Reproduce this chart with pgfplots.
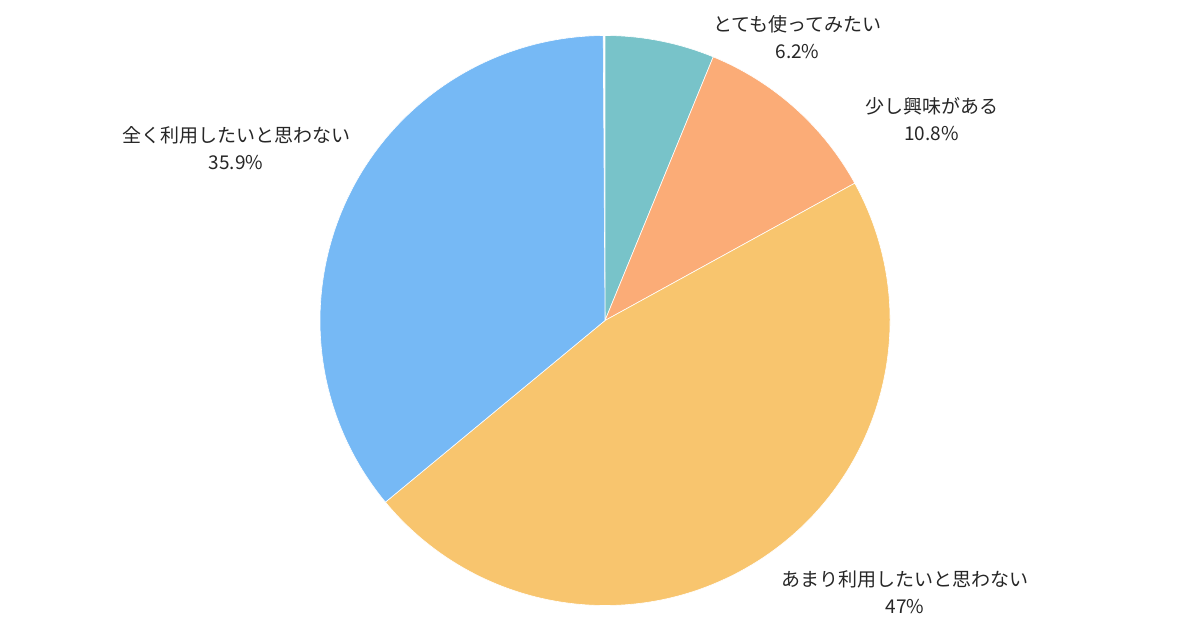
\documentclass[border=0pt]{standalone}
\usepackage{pgfplots}
\pgfplotsset{compat=1.18}
\usepackage{pgfplotstable}
\usepackage{fontspec}
\setmainfont{Noto Sans CJK JP}

\definecolor{slice0}{HTML}{78C3C9}
\definecolor{slice1}{HTML}{FBAC77}
\definecolor{slice2}{HTML}{F8C56E}
\definecolor{slice3}{HTML}{76B9F5}

% shares in percent, clockwise from 12 o'clock
\pgfplotstableread{
share
6.2
10.8
47
35.9
}\piedata

\begin{document}
\begin{tikzpicture}
\begin{axis}[at={(302.5bp,154.75bp)}, anchor=origin, hide axis,
  x=142.5bp, y=142.5bp, xmin=-1, xmax=1, ymin=-1, ymax=1, clip=false]
\def\startang{90}
\pgfplotsforeachungrouped \i in {0,...,3}{%
  \pgfplotstablegetelem{\i}{share}\of\piedata
  \pgfmathsetmacro\endang{\startang-3.6*\pgfplotsretval}%
  \edef\temp{\noexpand\fill[fill=slice\i, draw=white, line width=0.3pt]
    (axis cs:0,0) -- ++(\startang:142.5bp)
    arc[start angle=\startang, end angle=\endang, radius=142.5bp] -- cycle;}%
  \temp
  \global\let\startang\endang
}
\begin{scope}[every node/.style={align=center, font=\fontsize{9.5bp}{13.5bp}\selectfont, text=black!85}]
\node at (axis cs:0.6754,0.9947) {とても使ってみたい\\6.2\%};
\node at (axis cs:1.1456,0.7070) {少し興味がある\\10.8\%};
\node at (axis cs:1.0526,-0.9526) {あまり利用したいと思わない\\47\%};
\node at (axis cs:-1.2947,0.6053) {全く利用したいと思わない\\35.9\%};
\end{scope}
\end{axis}
\pgfresetboundingbox
\path (0,0) rectangle (600bp,315bp);
\end{tikzpicture}
\end{document}
